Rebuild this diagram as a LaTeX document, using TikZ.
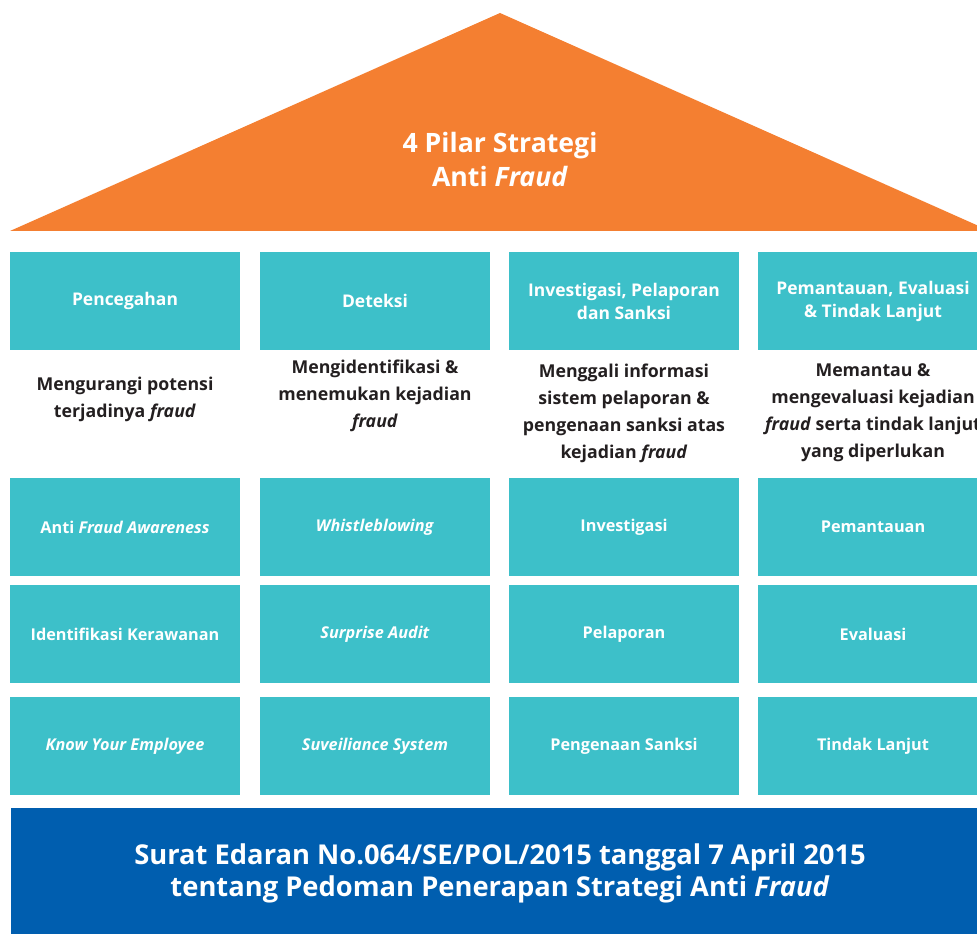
\documentclass[tikz,border=0pt]{standalone}
\usepackage{fontspec}
\setmainfont{Open Sans}
\usetikzlibrary{positioning}

\definecolor{pilarorange}{HTML}{F47F31}
\definecolor{pilarteal}{HTML}{3DC0C9}
\definecolor{pilarblue}{HTML}{005EAF}
\definecolor{pilartext}{HTML}{231F20}

\tikzset{
  pilarbox/.style={fill=pilarteal, text=white, minimum width=172.5pt, minimum height=73.5pt,
    inner sep=0pt, align=center, font=\bfseries\fontsize{12.2}{17.25}\selectfont},
  pilarhead/.style={pilarbox, font=\bfseries\fontsize{13.1}{17.25}\selectfont},
  pilardesc/.style={text=pilartext, align=center, inner sep=0pt,
    font=\bfseries\fontsize{13.3}{20.25}\selectfont},
  roofname/.style={text=white, align=center, inner sep=0pt, font=\bfseries\fontsize{20}{25.5}\selectfont},
  basename/.style={text=white, align=center, inner sep=0pt, font=\bfseries\fontsize{20.5}{24}\selectfont}
}

\begin{document}
\begin{tikzpicture}[x=0.75pt, y=-0.75pt]

  \useasboundingbox (0,0) rectangle (977,934);
  \clip (0,0) rectangle (977,934);

  \fill[pilarorange] (10,231) -- (500,13) -- (990,231) -- cycle;
  \node[roofname] (judul) at (500,160) {4 Pilar Strategi\\Anti \textit{Fraud}};

  \node[pilarhead] (pencegahan)  at (125,301) {Pencegahan};
  \node[pilarhead] (deteksi)     at (375,301) {Deteksi};
  \node[pilarhead] (investigasi) at (624,301) {Investigasi, Pelaporan\\dan Sanksi};
  \node[pilarhead] (pemantauan)  at (873,301) {Pemantauan, Evaluasi\\\& Tindak Lanjut};

  \node[pilardesc] (descA) at (125,399) {Mengurangi potensi\\terjadinya \textit{fraud}};
  \node[pilardesc] (descB) at (375,396) {Mengidentifikasi \&\\menemukan kejadian\\\textit{fraud}};
  \node[pilardesc] (descC) at (624,413) {Menggali informasi\\sistem pelaporan \&\\pengenaan sanksi atas\\kejadian \textit{fraud}};
  \node[pilardesc] (descD) at (873,413) {Memantau \&\\mengevaluasi kejadian\\\textit{fraud} serta tindak lanjut\\yang diperlukan};

  \node[pilarbox] (awareness) at (125,527) {Anti \textit{Fraud Awareness}};
  \node[pilarbox] (whistle)   at (375,527) {\textit{Whistleblowing}};
  \node[pilarbox] (invest)    at (624,527) {Investigasi};
  \node[pilarbox] (pantau)    at (873,527) {Pemantauan};

  \node[pilarbox] (rawan)     at (125,634) {Identifikasi Kerawanan};
  \node[pilarbox] (surprise)  at (375,634) {\textit{Surprise Audit}};
  \node[pilarbox] (lapor)     at (624,634) {Pelaporan};
  \node[pilarbox] (evaluasi)  at (873,634) {Evaluasi};

  \node[pilarbox] (employee)  at (125,746) {\textit{Know Your Employee}};
  \node[pilarbox] (suveil)    at (375,746) {\textit{Suveiliance System}};
  \node[pilarbox] (sanksi)    at (624,746) {Pengenaan Sanksi};
  \node[pilarbox] (lanjut)    at (873,746) {Tindak Lanjut};

  \fill[pilarblue] (11,808) rectangle (990,950);
  \node[basename] (pedoman) at (500,873) {Surat Edaran No.064/SE/POL/2015 tanggal 7 April 2015\\tentang Pedoman Penerapan Strategi Anti \textit{Fraud}};

\end{tikzpicture}
\end{document}
